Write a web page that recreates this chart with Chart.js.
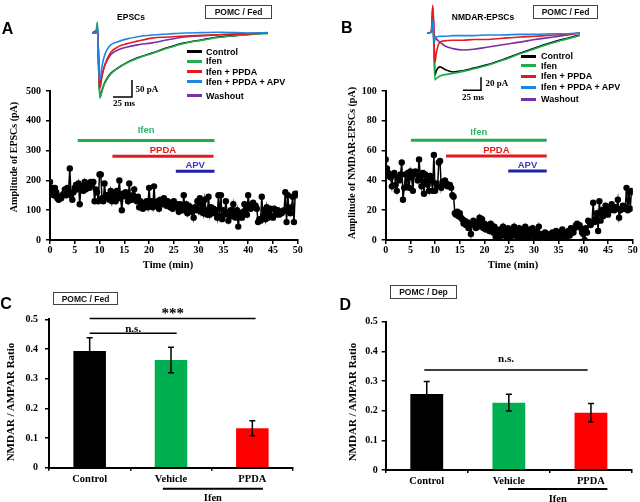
<!DOCTYPE html>
<html>
<head>
<meta charset="utf-8">
<script src="https://cdn.jsdelivr.net/npm/chart.js@4.4.0/dist/chart.umd.min.js"></script>
<style>
  body { margin: 0; width: 640px; height: 502px; position: relative; overflow: hidden; background: #fff; }
  .hold { position: absolute; }
  .t { position: absolute; white-space: nowrap; line-height: 1; color: #000; }
  .sans { font-family: "Liberation Sans", Arial, sans-serif; font-weight: bold; }
  .serif { font-family: "Liberation Serif", "Times New Roman", serif; font-weight: bold; }
  .tag { position: absolute; border: 1px solid #444; box-sizing: border-box; display: flex; align-items: center; justify-content: center;
         font: bold 8.5px "Liberation Sans", Arial, sans-serif; color: #111; }
  .leg { position: absolute; height: 3px; width: 15px; }
</style>
</head>
<body>
<script>
/* POMC / Fed and Dep: EPSC time courses, traces and NMDAR/AMPAR ratios */
var SERIF = '"Liberation Serif", "Times New Roman", serif';

// --- time courses (sampled every 15 s, 0..50 min) ---
var STEP_MIN = 0.25;
var AMP_A = [
  195,160,175,150, 175,160,140,135, 145,140,150,155, 170,150,175,165, 240,150,135,160,
  175,185,170,190, 120,175,180,165, 195,170,185,190, 175,195,185,195, 130,170,160,130,
  220,220,140,130, 190,145,150,140, 135,165,130,160, 145,130,165,150, 200,140,100,155,
  150,160,145,130, 190,145,135,150, 170,140,130,145, 110,130,125,105, 120,115,130,110,
  175,120,130,110, 180,115,120,130, 105,135,125,120, 140,125,115,130, 120,110,125,105,
  130,115,110,120, 95,120,110,100, 150,100,120,90, 115,110,95,105, 75,110,100,130,
  100,140,95,120, 90,135,100,85, 145,85,110,100, 105,90,100,75, 150,80,150,70,
  100,85,130,90, 65,95,100,80, 120,90,75,100, 45,80,90,75, 95,120,100,85,
  150,110,105,120, 125,110,115,105, 60,70,65,145, 80,100,70,110, 75,95,105,80,
  75,105,85,90, 100,85,95,90, 95,100,160,60, 150,100,90,110, 145,60,155,150,
  155
];
var AMP_B = [
  54,48,45,43, 42,36,44,45, 37,33,42,40, 44,52,27,35, 44,36,45,35,
  46,42,33,45, 46,44,40,54, 43,36,45,31, 44,40,37,33, 43,40,33,57,
  33,38,36,52, 53,35,39,37, 40,38,36,37, 37,35,30,29, 18,17,19,16,
  18,15,14,11, 13,10,12,8, 11,4,11,13, 10,8,12,9, 15,10,14,8,
  11,7,9,10, 6,11,8,5, 9,2,7,4, 1,7,4,9, 3,6,2,8,
  5,1,7,4, 9,3,6,2, 8,4,7,1, 6,9,3,5, 2,7,4,8,
  3,1,6,4, 9,2,4,1, 3,5,2,4, 1,3,2,5, 4,2,6,3,
  5,2,4,7, 3,5,2,4, 6,3,8,5, 5,8,10,11, 9,10,8,5,
  4,0,8,5, 13,12,10,12, 25,12,14,18, 6,26,13,20, 16,18,23,19,
  17,22,20,24, 21,20,22,21, 27,15,20,21, 23,21,22,35, 20,32,21,33,
  32
];

// drug application bars
var DRUGS = ['Ifen', 'PPDA', 'APV'];
var DRUG_COLORS = ['#1fae4e', '#e3191c', '#2121a8'];
var DRUG_TEXT = ['#2fb36a', '#e3191c', '#3a3ac4'];
var A_DRUG_ON = [5.6, 12.6, 25.4], A_DRUG_OFF = [33.2, 33.0, 33.2], A_DRUG_LEVEL = [334, 281, 231];
var B_DRUG_ON = [5.1, 12.2, 24.8], B_DRUG_OFF = [32.6, 32.6, 32.6], B_DRUG_LEVEL = [67, 56.3, 46.3];

// --- example traces (ms, pA) ---
var TRACE_NAMES = ['Control', 'Ifen', 'Ifen + PPDA', 'Ifen + PPDA  + APV', 'Washout'];
var TRACE_COLORS = ['#000000', '#1fae4e', '#e8191c', '#1f86e0', '#7a2fa6'];
var A_T = [0, 5, 7, 8, 9, 10.5, 13, 16, 20, 25, 34, 45, 60, 79, 100, 122, 145, 166, 190, 210, 232];
var A_CONTROL = [0, 0, 10, -20, -120, -188, -170, -150, -133, -118, -103, -88, -73, -59, -43, -29, -20, -12, -7, -3, 0];
var A_IFEN = [0, 0, 32, -10, -130, -191, -172, -152, -135, -120, -104, -89, -74, -60, -44, -30, -21, -13, -8, -4, -1];
var A_PPDA = [0, 0, 15, -20, -120, -162, -130, -100, -76, -56, -41, -32, -24, -15, -12, -9, -7, -5, -4, -2, 0];
var A_APV = [0, 0, 20, -30, -110, -138, -100, -70, -48, -34, -26, -18, -11, -6, -3, 0, 1, 2, 1, 0, 1];
var A_WASH = [0, 6, 5, -25, -100, -150, -125, -100, -80, -63, -50, -42, -35, -29, -20, -12, -8, -5, -3, -1, 0];
var B_T = [0, 6, 8, 10, 11, 13, 18, 25, 36, 50, 65, 83, 105, 129, 150, 175, 195, 212];
var B_CONTROL = [0, 1, 15, -30, -65, -58, -52, -56, -60, -58, -54, -49, -41, -31, -23, -14, -8, -3];
var B_IFEN = [0, 1, 20, -40, -72, -70, -66, -64, -62, -59, -55, -50, -42, -32, -24, -15, -9, -4];
var B_PPDA = [0, 2, 43, -20, -45, -30, -14, -12, -11, -11, -10, -10, -8, -6, -5, -3, -2, 0];
var B_APV = [0, 1, 20, -15, -10, -6, -5, -5, -4, -4, -4, -3, -3, -2, -2, -1, -1, 0];
var B_WASH = [0, 2, 40, 0, -6, -9, -14, -20, -24, -26, -25, -22, -18, -14, -10, -6, -3, 0];

// --- NMDAR / AMPAR ratios ---
var GROUPS = ['Control', 'Vehicle', 'PPDA'];
var BAR_COLORS = ['#000000', '#00b050', '#ff0000'];
var C_RATIO = [0.393, 0.363, 0.133], C_SEM = [0.045, 0.043, 0.025];
var D_RATIO = [0.256, 0.227, 0.193], D_SEM = [0.042, 0.028, 0.031];

function holder(left, top, w, h) {
  var d = document.createElement('div');
  d.className = 'hold';
  d.style.cssText = 'left:' + left + 'px;top:' + top + 'px;width:' + w + 'px;height:' + h + 'px';
  var c = document.createElement('canvas');
  d.appendChild(c);
  document.body.appendChild(d);
  return c;
}
function put(text, cx, cy, cls, css, rot) {
  var d = document.createElement('div');
  d.className = 't ' + cls;
  d.textContent = text;
  d.style.cssText = 'left:' + cx + 'px;top:' + cy + 'px;transform:translate(-50%,-50%)' + (rot ? ' rotate(-90deg)' : '') + ';' + (css || '');
  document.body.appendChild(d);
}
function tag(text, l, t, w, h) {
  var d = document.createElement('div');
  d.className = 'tag';
  d.textContent = text;
  d.style.cssText = 'left:' + l + 'px;top:' + t + 'px;width:' + w + 'px;height:' + h + 'px';
  document.body.appendChild(d);
}
function legend(lineX, textX, rows) {
  TRACE_NAMES.forEach(function (n, i) {
    var l = document.createElement('div');
    l.className = 'leg';
    l.style.cssText = 'left:' + lineX + 'px;top:' + (rows[i] - 1.5) + 'px;background:' + TRACE_COLORS[i];
    document.body.appendChild(l);
    var d = document.createElement('div');
    d.className = 't sans';
    d.textContent = n;
    d.style.cssText = 'left:' + textX + 'px;top:' + rows[i] + 'px;transform:translate(0,-50%);font-size:9px';
    document.body.appendChild(d);
  });
}

var drugLabels = {
  id: 'drugLabels',
  afterDatasetsDraw: function (chart, args, o) {
    if (!o.on) return;
    var ctx = chart.ctx, x = chart.scales.x, y = chart.scales.y;
    ctx.save();
    ctx.font = 'bold 9.5px "Liberation Sans", Arial, sans-serif';
    ctx.textAlign = 'center';
    ctx.textBaseline = 'middle';
    DRUGS.forEach(function (n, i) {
      ctx.fillStyle = DRUG_TEXT[i];
      ctx.fillText(n, x.getPixelForValue((o.on[i] + o.off[i]) / 2), y.getPixelForValue(o.level[i]) - o.dy[i]);
    });
    ctx.restore();
  }
};

var barExtras = {
  id: 'barExtras',
  afterDatasetsDraw: function (chart, args, o) {
    if (!o.sem) return;
    var ctx = chart.ctx, x = chart.scales.x, y = chart.scales.y;
    var vals = chart.data.datasets[0].data;
    var x0 = x.getPixelForValue(0), step = x.getPixelForValue(1) - x0;
    ctx.save();
    ctx.strokeStyle = '#000';
    ctx.fillStyle = '#000';
    ctx.lineWidth = 1.5;
    o.sem.forEach(function (e, i) {
      var cx = x0 + i * step, t = y.getPixelForValue(vals[i] + e), b = y.getPixelForValue(vals[i] - e);
      ctx.beginPath();
      ctx.moveTo(cx, t); ctx.lineTo(cx, b);
      ctx.moveTo(cx - 3, t); ctx.lineTo(cx + 3, t);
      ctx.moveTo(cx - 3, b); ctx.lineTo(cx + 3, b);
      ctx.stroke();
    });
    ctx.textAlign = 'center';
    o.sig.forEach(function (s) {
      var py = y.getPixelForValue(s.y), a = x0 + s.a * step, b = x0 + s.b * step;
      ctx.lineWidth = 1.5;
      ctx.beginPath(); ctx.moveTo(a, py); ctx.lineTo(b, py); ctx.stroke();
      ctx.font = 'bold ' + s.size + 'px ' + SERIF;
      ctx.textBaseline = 'alphabetic';
      ctx.fillText(s.text, (a + b) / 2, py - s.dy);
    });
    var u = o.under, uy = y.getPixelForValue(0) + u.dy;
    var ua = x0 + u.a * step, ub = x0 + u.b * step;
    ctx.lineWidth = 2;
    ctx.beginPath(); ctx.moveTo(ua, uy); ctx.lineTo(ub, uy); ctx.stroke();
    ctx.font = 'bold 10.5px ' + SERIF;
    ctx.textBaseline = 'middle';
    ctx.fillText(u.text, (ua + ub) / 2, uy + 10);
    ctx.restore();
  }
};

function axisStyle(extra) {
  var s = {
    grid: { display: true, drawOnChartArea: false, drawTicks: true, tickLength: 4, color: '#000', lineWidth: 1.5 },
    border: { display: true, color: '#000', width: 2 },
    ticks: { color: '#000', font: { family: SERIF, weight: 'bold', size: 10 }, maxRotation: 0, autoSkip: false }
  };
  for (var k in extra) s[k] = extra[k];
  return s;
}

function timeCourse(canvas, amp, on, off, level, dy, yMax, yStep, pad, yWidth) {
  var pts = amp.map(function (v, i) { return { x: i * STEP_MIN, y: v }; });
  var ds = DRUGS.map(function (n, i) {
    return { data: [{ x: on[i], y: level[i] }, { x: off[i], y: level[i] }], borderColor: DRUG_COLORS[i],
      borderWidth: 3, pointRadius: 0, tension: 0 };
  });
  ds.push({ data: pts, borderColor: '#000', borderWidth: 1.5, pointRadius: 3.2, pointBackgroundColor: '#000',
    pointBorderWidth: 0, tension: 0 });
  return new Chart(canvas.getContext('2d'), {
    type: 'line',
    data: { datasets: ds },
    options: {
      animation: false, responsive: true, maintainAspectRatio: false,
      layout: { padding: pad },
      plugins: { legend: { display: false }, tooltip: { enabled: false },
        drugLabels: { on: on, off: off, level: level, dy: dy } },
      scales: {
        x: axisStyle({ type: 'linear', min: 0, max: 50,
          ticks: { stepSize: 5, color: '#000', padding: 0, maxRotation: 0, font: { family: SERIF, weight: 'bold', size: 10 } },
          afterFit: function (s) { s.height = 40; } }),
        y: axisStyle({ min: 0, max: yMax,
          ticks: { stepSize: yStep, color: '#000', padding: 5, font: { family: SERIF, weight: 'bold', size: 10 } },
          afterFit: function (s) { s.width = yWidth; } })
      }
    },
    plugins: [drugLabels]
  });
}

function traces(canvas, t, series, bar, xMax, yMin, yMax) {
  var ds = [];
  var order = [3, 2, 4, 1, 0];
  order.forEach(function (k) {
    ds.push({ data: series[k].map(function (v, i) { return { x: t[i], y: v }; }), borderColor: TRACE_COLORS[k],
      borderWidth: 1.6, pointRadius: 0, cubicInterpolationMode: 'monotone' });
  });
  ds.push({ data: bar, borderColor: '#000', borderWidth: 1.5, pointRadius: 0, tension: 0 });
  return new Chart(canvas.getContext('2d'), {
    type: 'line',
    data: { datasets: ds },
    options: {
      animation: false, responsive: true, maintainAspectRatio: false,
      layout: { padding: 0 },
      plugins: { legend: { display: false }, tooltip: { enabled: false } },
      scales: { x: { type: 'linear', display: false, min: 0, max: xMax }, y: { display: false, min: yMin, max: yMax } }
    }
  });
}

function ratioBars(canvas, vals, sem, sig, under, pad, yWidth, yPad) {
  return new Chart(canvas.getContext('2d'), {
    type: 'bar',
    data: { labels: GROUPS, datasets: [{ data: vals, backgroundColor: BAR_COLORS, borderWidth: 0,
      barPercentage: 0.4, categoryPercentage: 1 }] },
    options: {
      animation: false, responsive: true, maintainAspectRatio: false,
      layout: { padding: pad },
      plugins: { legend: { display: false }, tooltip: { enabled: false },
        barExtras: { sem: sem, sig: sig, under: under } },
      scales: {
        x: axisStyle({ grid: { display: true, drawOnChartArea: false, tickLength: 3, color: '#000', lineWidth: 1.5 },
          ticks: { color: '#000', padding: 2, font: { family: SERIF, weight: 'bold', size: 10.5 } },
          afterFit: function (s) { s.height = pad.h; } }),
        y: axisStyle({ min: 0, max: 0.5,
          ticks: { stepSize: 0.1, color: '#000', padding: yPad, font: { family: SERIF, weight: 'bold', size: 10 },
            callback: function (v) { return v === 0 ? '0' : v.toFixed(1); } },
          afterFit: function (s) { s.width = yWidth; } })
      }
    },
    plugins: [barExtras]
  });
}

// panel A
timeCourse(holder(0, 80, 310, 200), AMP_A, A_DRUG_ON, A_DRUG_OFF, A_DRUG_LEVEL, [10, 6, 6], 500, 100,
  { top: 7.3, right: 12.3, bottom: 0, left: 0 }, 50);
traces(holder(92, 10, 176, 95), A_T, [A_CONTROL, A_IFEN, A_PPDA, A_APV, A_WASH],
  [{ x: 27.6, y: -188 }, { x: 52.6, y: -188 }, { x: 52.6, y: -138 }], 231.6, -211.8, 67.6);
// panel B
timeCourse(holder(340, 80, 300, 200), AMP_B, B_DRUG_ON, B_DRUG_OFF, B_DRUG_LEVEL, [8, 6, 6], 100, 20,
  { top: 7.3, right: 7.3, bottom: 0, left: 0 }, 45.7);
traces(holder(427, 0, 153, 100), B_T, [B_CONTROL, B_IFEN, B_PPDA, B_APV, B_WASH],
  [{ x: 50, y: -88 }, { x: 75, y: -88 }, { x: 75, y: -68 }], 212.5, -103, 50.8);
// panel C
ratioBars(holder(0, 290, 310, 212), C_RATIO, C_SEM,
  [{ a: 0, b: 1.07, y: 0.453, text: 'n.s.', size: 11, dy: 1 }, { a: 0, b: 2.04, y: 0.503, text: '***', size: 15, dy: 0 }],
  { a: 0.9, b: 2.13, dy: 21, text: 'Ifen' },
  { top: 29.3, right: 17, bottom: 0, left: 0, h: 34.3 }, 49, 7);
// panel D
ratioBars(holder(340, 290, 300, 212), D_RATIO, D_SEM,
  [{ a: -0.03, b: 1.96, y: 0.337, text: 'n.s.', size: 11, dy: 8 }],
  { a: 0.99, b: 2.2, dy: 19, text: 'Ifen' },
  { top: 31.7, right: 8, bottom: 0, left: 0, h: 32 }, 45.7, 4);

// panel letters, titles, tags
put('A', 7.5, 29, 'sans', 'font-size:16px');
put('B', 346.7, 28, 'sans', 'font-size:16px');
put('C', 6, 304, 'sans', 'font-size:16px');
put('D', 345.3, 305, 'sans', 'font-size:16px');
put('EPSCs', 131, 17, 'sans', 'font-size:8.5px');
put('NMDAR-EPSCs', 483, 17.3, 'sans', 'font-size:8.5px');
tag('POMC / Fed', 205, 5, 67, 14);
tag('POMC / Fed', 533, 5, 65, 14);
tag('POMC / Fed', 53, 292, 65, 13);
tag('POMC / Dep', 390, 285, 67, 14);
legend(187, 206, [51.7, 61, 71.7, 81.7, 95.7]);
legend(521, 541, [56, 65.7, 76.3, 87.3, 99.3]);
// scale bar labels
put('50 pA', 147, 89, 'serif', 'font-size:9px');
put('25 ms', 124, 103, 'serif', 'font-size:9px');
put('20 pA', 497, 83, 'serif', 'font-size:9px');
put('25 ms', 473, 97, 'serif', 'font-size:9px');
// axis titles
put('Amplitude  of EPSCs (pA)', 14, 157, 'serif', 'font-size:10px', true);
put('Amplitude  of NMDAR-EPSCs  (pA)', 352, 163, 'serif', 'font-size:10px', true);
put('Time (min)', 168, 265, 'serif', 'font-size:10.5px');
put('Time (min)', 513, 265, 'serif', 'font-size:10.5px');
put('NMDAR  / AMPAR  Ratio', 10, 402, 'serif', 'font-size:11px', true);
put('NMDAR  / AMPAR  Ratio', 352, 402, 'serif', 'font-size:11px', true);
</script>
</body>
</html>
